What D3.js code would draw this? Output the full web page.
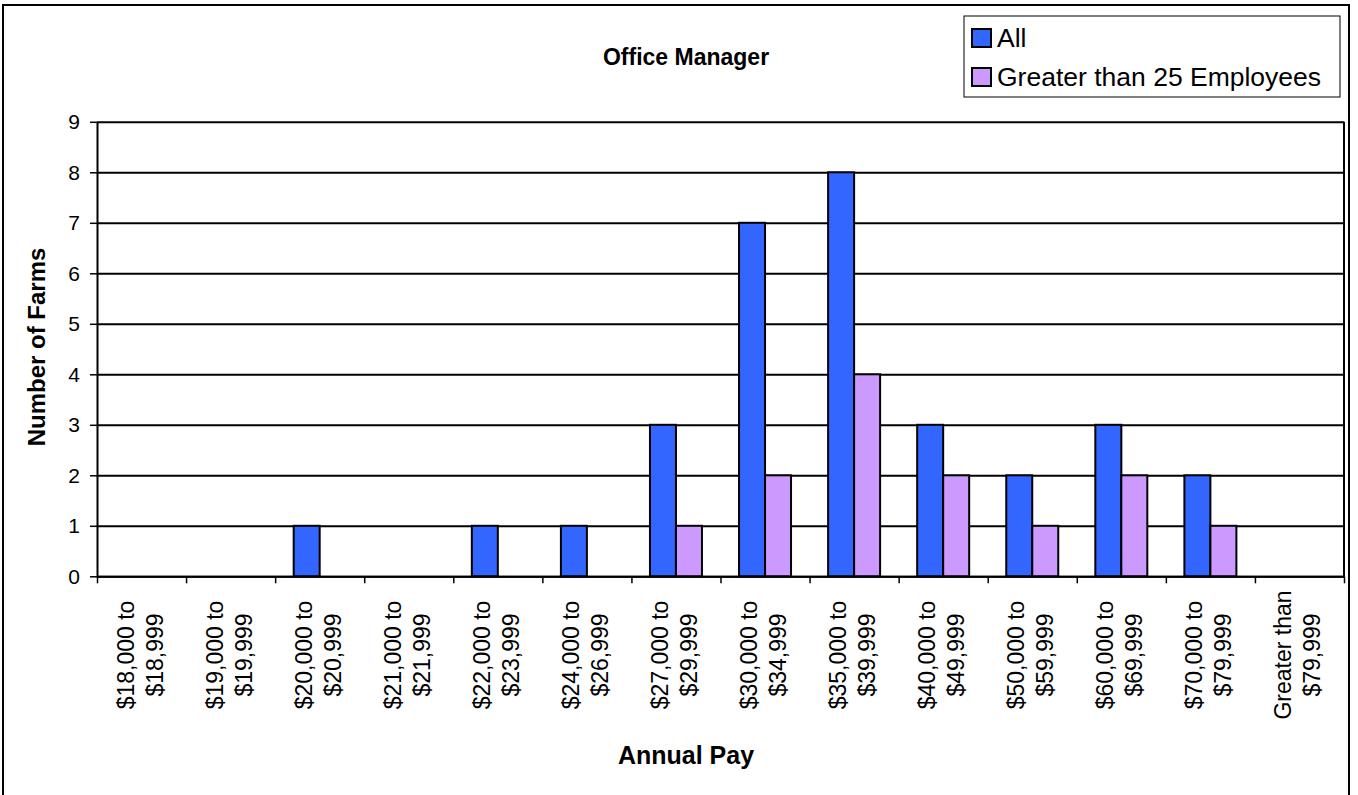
<!DOCTYPE html>
<html>
<head>
<meta charset="utf-8">
<script src="https://cdn.jsdelivr.net/npm/d3@7"></script>
<style>
  body { margin: 0; background: #fff; }
  text { font-family: "Liberation Sans", Arial, sans-serif; fill: #000; }
</style>
</head>
<body>
<div id="chart"></div>
<script>
// Chart data
var categories = [
    ["$18,000 to", "$18,999"],
    ["$19,000 to", "$19,999"],
    ["$20,000 to", "$20,999"],
    ["$21,000 to", "$21,999"],
    ["$22,000 to", "$23,999"],
    ["$24,000 to", "$26,999"],
    ["$27,000 to", "$29,999"],
    ["$30,000 to", "$34,999"],
    ["$35,000 to", "$39,999"],
    ["$40,000 to", "$49,999"],
    ["$50,000 to", "$59,999"],
    ["$60,000 to", "$69,999"],
    ["$70,000 to", "$79,999"],
    ["Greater than", "$79,999"]
];
var seriesNames = ["All", "Greater than 25 Employees"];
var allValues = [0, 0, 1, 0, 1, 1, 3, 7, 8, 3, 2, 3, 2, 0];
var largeValues = [0, 0, 0, 0, 0, 0, 1, 2, 4, 2, 1, 2, 1, 0];
var yTicks = [0, 1, 2, 3, 4, 5, 6, 7, 8, 9];

var colors = ["#3366FF", "#CC99FF"];

// SVG size
var svgWidth = 1358;
var svgHeight = 795;

// plot area inside the frame
var plot = { left: 97, top: 121.8, right: 1344, bottom: 576.3 };
var plotWidth = plot.right - plot.left;
var plotHeight = plot.bottom - plot.top;

var svg = d3.select("#chart")
    .append("svg")
    .attr("width", svgWidth)
    .attr("height", svgHeight);

// outer chart frame (bottom edge falls below the page)
svg.append("rect")
    .attr("x", 3)
    .attr("y", 5)
    .attr("width", 1346)
    .attr("height", 820)
    .attr("fill", "#fff")
    .attr("stroke", "#000")
    .attr("stroke-width", 2);

var chartGroup = svg.append("g")
    .attr("transform", `translate(${plot.left}, ${plot.top})`);

// scales
var xScale = d3.scaleBand()
    .domain(d3.range(categories.length))
    .range([0, plotWidth]);

var xSub = d3.scaleBand()
    .domain(seriesNames)
    .range([0, xScale.bandwidth()])
    .paddingOuter(0.713);

var yScale = d3.scaleLinear()
    .domain([0, 9])
    .range([plotHeight, 0]);

var tickScale = d3.scaleLinear()
    .domain([0, categories.length])
    .range([0, plotWidth]);

// gridlines
chartGroup.append("g")
    .attr("class", "grid")
    .call(d3.axisLeft(yScale).tickValues(yTicks).tickSize(-plotWidth).tickFormat(""))
    .call(function (g) {
        g.select(".domain").remove();
        g.selectAll("line").attr("stroke", "#000").attr("stroke-width", 2);
    });

// bars
var rows = categories.map(function (c, i) {
    return { index: i, values: [allValues[i], largeValues[i]] };
});

var groups = chartGroup.selectAll(".cat")
    .data(rows)
    .enter()
    .append("g")
    .attr("class", "cat")
    .attr("transform", function (d) { return `translate(${xScale(d.index)},0)`; });

groups.selectAll("rect")
    .data(function (d) {
        return d.values.map(function (v, k) { return { name: seriesNames[k], value: v, k: k }; })
            .filter(function (b) { return b.value > 0; });
    })
    .enter()
    .append("rect")
    .attr("x", function (b) { return xSub(b.name); })
    .attr("y", function (b) { return yScale(b.value); })
    .attr("width", xSub.bandwidth())
    .attr("height", function (b) { return yScale(0) - yScale(b.value); })
    .attr("fill", function (b) { return colors[b.k]; })
    .attr("stroke", "#000")
    .attr("stroke-width", 2);

// right border of plot
chartGroup.append("line")
    .attr("x1", plotWidth).attr("x2", plotWidth)
    .attr("y1", 0).attr("y2", plotHeight)
    .attr("stroke", "#000")
    .attr("stroke-width", 2);

// y axis
chartGroup.append("g")
    .call(d3.axisLeft(yScale).tickValues(yTicks).tickSize(7).tickPadding(10).tickSizeOuter(0))
    .call(function (g) {
        g.select(".domain").attr("stroke", "#000").attr("stroke-width", 2);
        g.selectAll("line").attr("stroke", "#000").attr("stroke-width", 1.5);
        g.selectAll("text")
            .style("font-family", "'Liberation Sans', Arial, sans-serif")
            .style("font-size", "21px")
            .attr("fill", "#000");
    });

// x axis ticks at category boundaries
chartGroup.append("g")
    .attr("transform", `translate(0, ${plotHeight})`)
    .call(d3.axisBottom(tickScale).ticks(categories.length).tickSize(7).tickFormat("").tickSizeOuter(0))
    .call(function (g) {
        g.select(".domain").attr("stroke", "#000").attr("stroke-width", 2);
        g.selectAll("line").attr("stroke", "#000").attr("stroke-width", 1.5);
    });

// x category labels (rotated, two lines)
var labels = chartGroup.selectAll(".xlabel")
    .data(categories)
    .enter()
    .append("text")
    .attr("class", "xlabel")
    .attr("text-anchor", "middle")
    .style("font-size", "23px")
    .attr("transform", function (d, i) {
        return `translate(${xScale(i) + xScale.bandwidth() / 2}, ${655 - plot.top}) rotate(-90)`;
    });

labels.append("tspan")
    .attr("x", 0)
    .attr("y", -8)
    .text(function (d) { return d[0]; });

labels.append("tspan")
    .attr("x", 0)
    .attr("y", 21)
    .text(function (d) { return d[1]; });

// chart title
svg.append("text")
    .attr("x", 686)
    .attr("y", 65)
    .attr("text-anchor", "middle")
    .style("font-size", "23px")
    .style("font-weight", "bold")
    .text("Office Manager");

// x axis title
svg.append("text")
    .attr("x", 686)
    .attr("y", 764)
    .attr("text-anchor", "middle")
    .style("font-size", "25px")
    .style("font-weight", "bold")
    .text("Annual Pay");

// y axis title
svg.append("text")
    .attr("transform", "translate(45, 347) rotate(-90)")
    .attr("text-anchor", "middle")
    .style("font-size", "24px")
    .style("font-weight", "bold")
    .text("Number of Farms");

// legend
var legend = svg.append("g").attr("class", "legend");

legend.append("rect")
    .attr("x", 964)
    .attr("y", 16)
    .attr("width", 376)
    .attr("height", 81)
    .attr("fill", "#fff")
    .attr("stroke", "#000")
    .attr("stroke-width", 1);

var legendItems = legend.selectAll(".item")
    .data(seriesNames)
    .enter()
    .append("g")
    .attr("class", "item")
    .attr("transform", function (d, i) { return `translate(972, ${29 + i * 39})`; });

legendItems.append("rect")
    .attr("width", 19)
    .attr("height", 18)
    .attr("fill", function (d, i) { return colors[i]; })
    .attr("stroke", "#000")
    .attr("stroke-width", 2);

legendItems.append("text")
    .attr("x", 25)
    .attr("y", 18)
    .style("font-size", "26.5px")
    .text(function (d) { return d; });
</script>
</body>
</html>
